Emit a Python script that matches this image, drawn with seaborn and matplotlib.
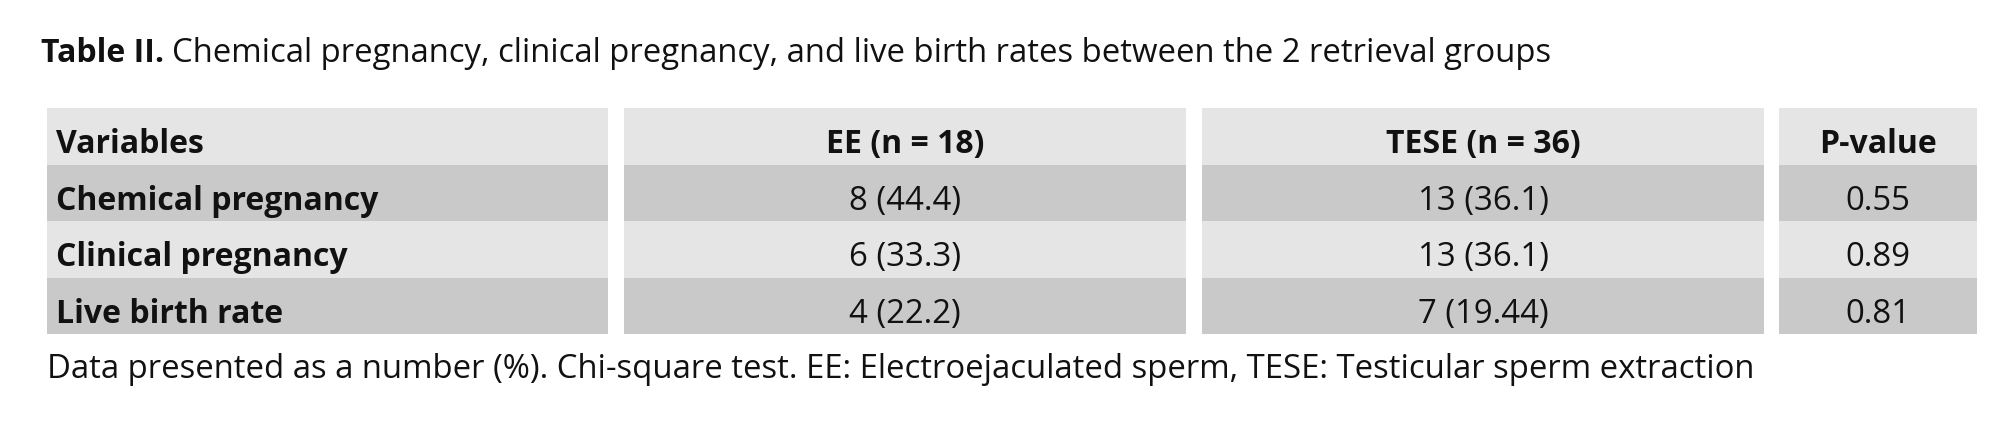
import matplotlib
matplotlib.use("Agg")
import matplotlib.pyplot as plt
import seaborn as sns
from matplotlib.patches import Rectangle

sns.set_theme(style="white")
plt.rcParams['font.family'] = ['Open Sans', 'DejaVu Sans']

title_bold = "Table II."
title_text = "Chemical pregnancy, clinical pregnancy, and live birth rates between the 2 retrieval groups"
headers = ["Variables", "EE (n = 18)", "TESE (n = 36)", "P-value"]
variables = ["Chemical pregnancy", "Clinical pregnancy", "Live birth rate"]
ee_values = ["8 (44.4)", "6 (33.3)", "4 (22.2)"]
tese_values = ["13 (36.1)", "13 (36.1)", "7 (19.44)"]
p_values = ["0.55", "0.89", "0.81"]
footnote = ("Data presented as a number (%). Chi-square test. EE: Electroejaculated sperm, "
            "TESE: Testicular sperm extraction")

W, H = 2000, 442
fig = plt.figure(figsize=(20, 4.42), dpi=100)
ax = fig.add_axes([0, 0, 1, 1])
ax.set_xlim(0, W)
ax.set_ylim(H, 0)
ax.axis("off")

col_edges = [(47, 608), (624, 1186), (1202, 1764), (1779, 1977)]
row_top = 108
row_h = 56.5
light = "#e5e5e5"
dark = "#c9c9c9"
fs = 23.7
fsb = 23.0
ink = "#111111"

rows = [headers] + [[v, e, t, p] for v, e, t, p in zip(variables, ee_values, tese_values, p_values)]
for r, row in enumerate(rows):
    y0 = row_top + r * row_h
    color = light if r % 2 == 0 else dark
    for c, (x0, x1) in enumerate(col_edges):
        ax.add_patch(Rectangle((x0, y0), x1 - x0, row_h, facecolor=color, edgecolor="none"))
        yc = y0 + row_h / 2 + 8.5
        if c == 0:
            ax.text(x0 + 9, yc, row[c], ha="left", va="center", fontsize=fsb,
                    fontweight="bold", color=ink)
        else:
            bold = r == 0
            ax.text((x0 + x1) / 2, yc, row[c], ha="center", va="center",
                    fontsize=fsb if bold else fs,
                    fontweight="bold" if bold else "normal", color=ink)

t1 = ax.text(41, 54, title_bold + " ", ha="left", va="center", fontsize=fsb,
             fontweight="bold", color=ink)
fig.canvas.draw()
bb = t1.get_window_extent()
x_after = bb.x1
ax.annotate(title_text, xy=(x_after, H - 54), xycoords="figure pixels", ha="left",
            va="center", fontsize=fs, color=ink)

ax.text(47, 370, footnote, ha="left", va="center", fontsize=fs, color=ink)

fig.savefig("out.png", dpi=100, facecolor="white")
